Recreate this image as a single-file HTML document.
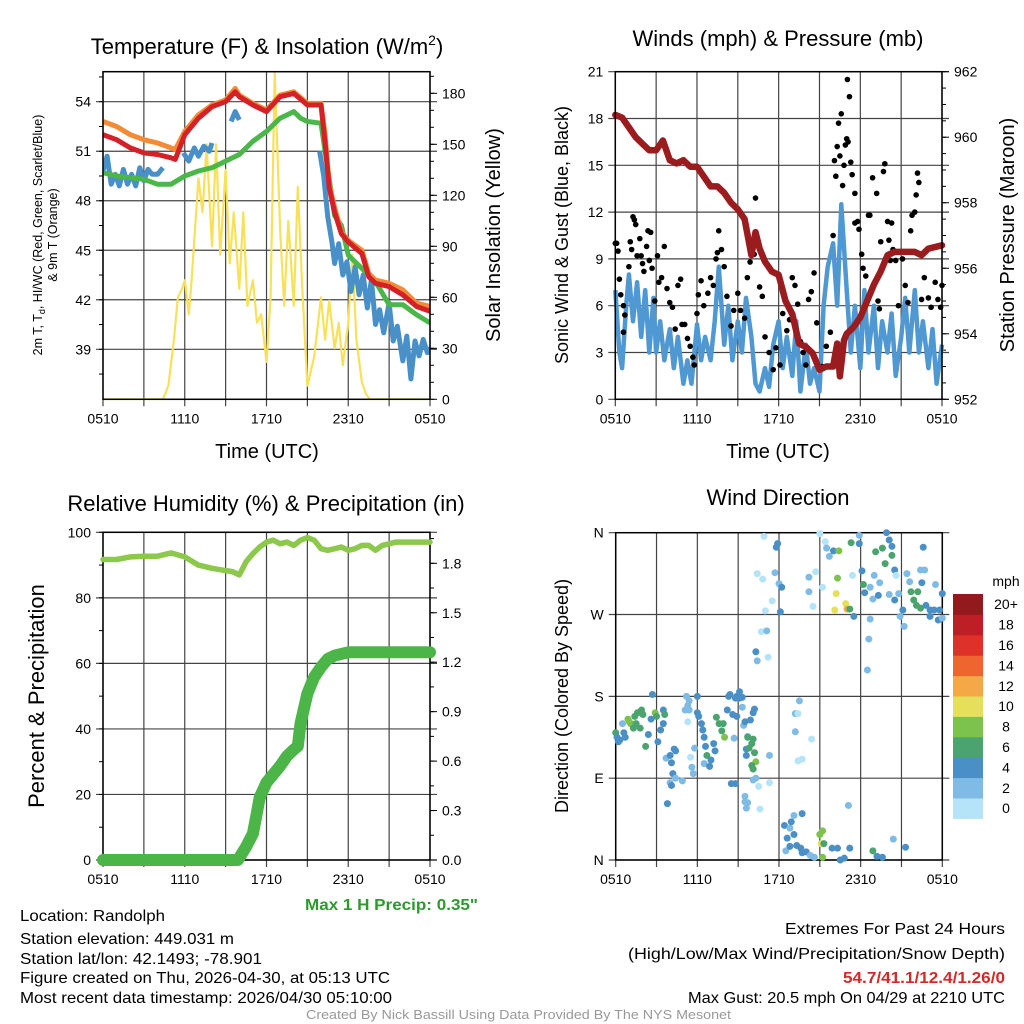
<!DOCTYPE html>
<html><head><meta charset="utf-8"><title>Randolph Meteogram</title>
<style>
html,body{margin:0;padding:0;background:#fff;}
#wrap{position:relative;width:1024px;height:1024px;overflow:hidden;font-family:"Liberation Sans",Arial,sans-serif;}
svg text{font-family:"Liberation Sans",Arial,sans-serif;fill:#000;}
.nar{font-family:"Liberation Sans Narrow","Liberation Sans",sans-serif;}
</style></head>
<body>
<div id="wrap">
<svg id="chart" width="1024" height="1024" viewBox="0 0 1024 1024" xmlns="http://www.w3.org/2000/svg">
<text x="267" y="54" font-size="22" text-anchor="middle">Temperature (F) &amp; Insolation (W/m<tspan dy="-9" font-size="14">2</tspan><tspan dy="9">)</tspan></text>
<text x="778" y="46" font-size="22" text-anchor="middle">Winds (mph) &amp; Pressure (mb)</text>
<text x="266" y="511" font-size="22" text-anchor="middle">Relative Humidity (%) &amp; Precipitation (in)</text>
<text x="778" y="505" font-size="22" text-anchor="middle">Wind Direction</text>

<text transform="translate(42,235) rotate(-90)" font-size="12.5" text-anchor="middle">2m T, T<tspan font-size="9" dy="3">d</tspan><tspan dy="-3">, HI/WC (Red, Green, Scarlet/Blue)</tspan></text>
<text transform="translate(57,235) rotate(-90)" font-size="12.5" text-anchor="middle">&amp; 9m T (Orange)</text>
<text transform="translate(500,235) rotate(-90)" font-size="20" text-anchor="middle">Solar Insolation (Yellow)</text>
<text transform="translate(568,235) rotate(-90)" font-size="18" text-anchor="middle">Sonic Wind &amp; Gust (Blue, Black)</text>
<text transform="translate(1014,235) rotate(-90)" font-size="20" text-anchor="middle">Station Pressure (Maroon)</text>
<text transform="translate(44,696) rotate(-90)" font-size="22" text-anchor="middle">Percent &amp; Precipitation</text>
<text transform="translate(568,696) rotate(-90)" font-size="18" text-anchor="middle">Direction (Colored By Speed)</text>
<text x="267" y="458" font-size="20" text-anchor="middle">Time (UTC)</text>
<text x="778" y="458" font-size="20" text-anchor="middle">Time (UTC)</text>

<text x="305" y="910" font-size="16" font-weight="bold" textLength="173" lengthAdjust="spacingAndGlyphs" class="nar" style="fill:#2e9a2e">Max 1 H Precip: 0.35"</text>
<text x="20" y="921" font-size="16" textLength="145" lengthAdjust="spacingAndGlyphs" class="nar">Location: Randolph</text>
<text x="20" y="944" font-size="16" textLength="214" lengthAdjust="spacingAndGlyphs" class="nar">Station elevation: 449.031 m</text>
<text x="20" y="964" font-size="16" textLength="242" lengthAdjust="spacingAndGlyphs" class="nar">Station lat/lon: 42.1493; -78.901</text>
<text x="20" y="983" font-size="16" textLength="370" lengthAdjust="spacingAndGlyphs" class="nar">Figure created on Thu, 2026-04-30, at 05:13 UTC</text>
<text x="20" y="1003" font-size="16" textLength="372" lengthAdjust="spacingAndGlyphs" class="nar">Most recent data timestamp: 2026/04/30 05:10:00</text>
<text x="785" y="934" font-size="16" textLength="220" lengthAdjust="spacingAndGlyphs" class="nar">Extremes For Past 24 Hours</text>
<text x="628" y="959" font-size="16" textLength="377" lengthAdjust="spacingAndGlyphs" class="nar">(High/Low/Max Wind/Precipitation/Snow Depth)</text>
<text x="843" y="983" font-size="16" font-weight="bold" textLength="162" lengthAdjust="spacingAndGlyphs" class="nar" style="fill:#d02a2a">54.7/41.1/12.4/1.26/0</text>
<text x="688" y="1003" font-size="16" textLength="317" lengthAdjust="spacingAndGlyphs" class="nar">Max Gust: 20.5 mph On 04/29 at 2210 UTC</text>
<text x="306" y="1019" font-size="12.5" textLength="425" lengthAdjust="spacingAndGlyphs" class="nar" style="fill:#999">Created By Nick Bassill Using Data Provided By The NYS Mesonet</text>
</svg>
</div>
<script>
// ---------- DATA ----------
const xTickLabels = ["0510","1110","1710","2310","0510"];
// Panel 1: temperatures (F), time in hours since 0510
const orangeT = [0,1,2,3,4,5,5.3,6,7,8,9,9.7,10,11,12,13,14,15,16,16.3,16.6,17,17.5,18,19,19.5,20,21,22,23,24];
const orangeV = [52.8,52.5,52.0,51.7,51.5,51.2,51.1,52.2,53.2,53.8,54.1,54.8,54.4,53.9,53.5,54.4,54.6,53.9,53.9,52,49,47.6,46.1,45.6,45.0,43.6,43.2,43.0,42.6,41.8,41.6];
const redT = [0,1,2,3,4,5,5.3,6,7,8,9,9.7,10,11,12,13,14,15,16,16.3,16.6,17,17.5,18,19,19.5,20,21,22,23,24];
const redV = [52.0,51.7,51.2,50.9,50.8,50.6,50.5,52.0,53.0,53.7,54.0,54.6,54.3,53.8,53.4,54.3,54.5,53.8,53.8,51.5,48.8,47.3,46.0,45.5,44.8,43.4,43.0,42.8,42.3,41.6,41.3];
const greenT = [0,1,2,3,4,5,6,7,8,9,10,11,12,13,14,14.5,15,16,16.5,17,17.5,18,19,20,21,22,23,24];
const greenV = [49.7,49.5,49.4,49.3,49.0,49.0,49.5,49.8,50.0,50.4,50.8,51.6,52.2,53.0,53.4,53.0,52.8,52.7,49.9,47.1,46.5,44.7,43.9,43.1,41.7,41.7,41.1,40.6];
const blueT = [0,0.3,0.6,0.9,1.2,1.5,1.8,2.1,2.4,2.7,3,3.3,3.6,4,4.4,null,5.9,6.3,6.7,7,7.4,7.8,8,null,9.4,9.7,10,null,15.9,16.2,16.5,16.8,17,17.3,17.6,17.9,18.2,18.5,18.8,19.1,19.4,19.7,20,20.3,20.6,21,21.3,21.6,22,22.3,22.6,22.9,23.2,23.5,23.8,24];
const blueV = [49.8,50.7,49.0,49.6,48.9,49.9,49.0,49.6,48.9,50.0,49.2,49.9,49.6,49.6,50.0,null,50.9,50.4,51.2,50.7,51.3,51.0,51.5,null,52.8,53.4,52.9,null,51.0,49.5,47.0,45.5,44.2,45.4,43.5,44.3,42.5,44.0,42.3,43.5,41.5,43.2,40.5,41.4,40.0,41.8,39.5,40.4,38.3,39.8,37.2,39.5,38.6,39.6,38.8,39.1];
const solarT = [0,4.4,4.8,5.2,5.5,5.8,6,6.3,6.5,7,7.3,7.6,8,8.3,8.6,9,9.3,9.6,10,10.3,10.6,11,11.3,11.6,12,12.3,12.6,13,13.3,13.6,14,14.3,14.6,15,15.5,16,16.3,16.6,17,17.3,17.6,18,18.3,18.6,19,19.3,19.6,24];
const solarV = [0,0,8,35,60,65,70,50,70,130,110,150,90,150,85,135,80,110,65,110,55,70,45,50,22,60,192,100,55,105,55,125,70,8,25,60,35,58,30,45,20,45,85,35,10,3,0,0];
// Panel 2: winds (mph) & pressure (mb)
const windT = [0,0.3,0.5,0.8,1,1.3,1.6,1.9,2.2,2.5,2.8,3,3.3,3.6,4,4.3,4.6,5,5.3,5.6,6,6.3,6.6,7,7.3,7.6,8,8.3,8.6,9,9.3,9.6,10,10.3,10.6,11,11.3,11.6,12,12.3,12.6,13,13.3,13.6,14,14.3,14.6,15,15.3,15.6,16,16.3,16.6,17,17.3,17.6,18,18.3,18.6,19,19.3,19.6,20,20.3,20.6,21,21.3,21.6,22,22.3,22.6,23,23.3,23.6,24];
const windV = [7,3,2,6,8,5,7.5,4,7,3,6.5,3,5,2.5,4.5,2,4,1,2.5,1,4.8,2.5,4,2.5,5,8.5,3.5,6,2.5,5,3,6.5,4,1,0.5,2,0.8,3.5,5,2,4,1.5,5,0.5,3.5,1,2,0.5,6,8.5,10,6,12.5,7,3,6,2,7,3,6,2,5,3,5.5,1.5,4,6.5,3,7,3,5,2,4.5,1,3.5];
const gustT = [0,0.1,0.2,0.3,0.4,0.6,0.6,0.7,1,1.1,1.2,1.3,1.4,1.5,1.6,1.8,1.9,2,2.1,2.3,2.4,2.5,2.6,2.7,2.9,3.1,3.2,3.4,3.6,3.8,4,4.2,4.4,4.6,4.8,4.9,5.1,5.3,5.5,5.7,5.8,6,6.1,6.3,6.5,6.8,7,7.2,7.4,7.5,7.6,7.8,8,8.2,8.5,8.7,9,9.2,9.5,9.7,9.9,10.2,10.3,10.6,10.8,11,11.3,11.6,11.8,12.1,12.3,12.6,12.8,13,13.2,13.4,13.6,13.8,14,14.2,14.4,14.6,14.8,15.2,15.5,15.8,16,16.1,16.2,16.3,16.4,16.5,16.6,16.7,16.8,16.9,17,17.05,17.1,17.2,17.3,17.4,17.6,17.6,17.8,17.9,18.1,18.2,18.4,18.6,18.7,18.9,19.2,19.3,19.4,19.5,19.7,19.8,20,20.1,20.2,20.3,20.4,20.6,20.8,21.1,21.3,21.5,21.7,21.8,22,22.1,22.2,22.3,22.5,22.7,23,23.2,23.5,23.7,23.9,24];
const gustV = [10,10,9.5,7.7,6.7,6,4.3,5.4,8.5,10.1,9.6,11.7,11.5,11.2,9.2,10.3,9.2,8.7,8.2,9.8,10.8,8.9,10.7,8.4,6.3,9.2,7.5,7.8,9.8,7.1,6.2,5.9,4.5,7.3,7.7,4.8,4.8,3.9,3.4,2.7,2.2,5.5,6.7,7.6,6.0,6.8,7.8,7.3,9,9.4,10.8,9.6,8.5,6.6,4.7,5.7,6.8,5.7,5.2,7.8,8.8,9.3,12.9,7.2,6.6,4.0,3,1.9,3.3,2.2,5.5,4.4,5.1,7.8,7.3,6.1,3.7,3.0,2.2,6.4,6.9,8.1,4.9,2.1,3.4,4.3,10.5,15.3,14.3,16.2,17.7,15.6,18.3,13.7,15.0,16.3,16.7,20.5,16.5,19.4,15.2,14.4,13.2,11.3,11.4,10.9,9.3,8.4,7.9,11.8,11.8,14.2,13.2,6.3,5.8,10.1,14.6,15.1,11.4,10.2,8.9,11.3,9.6,8.9,6.0,9.0,7.3,6.2,10.8,11.8,12,13.1,14.5,13.9,6.4,7.8,6.5,5.9,7.5,6.4,5.9,7.3];
const presT = [0,0.5,1,1.5,2,2.5,3,3.5,4,4.5,5,5.5,6,6.5,7,7.5,8,8.5,9,9.5,10,10.3,10.6,11,11.5,12,12.5,13,13.5,14,14.5,15,15.5,16,16.3,16.5,16.8,17,17.5,18,18.5,19,19.5,20,20.5,21,22,22.5,23,24];
const presV = [960.68,960.6,960.3,960.0,959.8,959.6,959.6,959.9,959.3,959.2,959.3,959.1,959.1,958.8,958.5,958.5,958.3,958.0,957.8,957.5,956.4,957.1,956.6,956.2,955.9,955.8,955.0,954.6,953.7,953.6,953.4,952.9,953.0,953.0,953.7,952.7,953.8,954.0,954.2,954.5,955.0,955.5,955.9,956.4,956.5,956.5,956.5,956.4,956.6,956.7];
// Panel 3: RH (%) & precipitation (in)
const rhT = [0,1,2,3,4,5,6,7,8,9,9.5,10,10.5,11,11.5,12,12.5,13,13.5,14,14.5,15,15.5,16,16.5,17,17.5,18,18.5,19,19.5,20,20.5,21,21.5,22,23,24];
const rhV = [91.7,91.7,92.5,92.7,92.7,93.7,92.5,90,89,88.3,88,87,91,93.5,95.5,97,97.6,96.5,97,96,97.6,98.4,97.6,95,94.5,95,95.5,94.5,95,96,96,94.5,96,96.5,97,97,97,97];
const prT = [0,9.9,10.5,11,11.3,11.5,12,12.5,13,13.5,14,14.3,14.5,15,15.5,16,16.5,17,18,24];
const prV = [0,0,0.08,0.16,0.29,0.38,0.47,0.52,0.57,0.63,0.67,0.69,0.83,1.01,1.11,1.17,1.22,1.24,1.26,1.26];
// Panel 4: wind direction (deg) colored by speed bin (mph)
const dirT = [0,0.1,0.2,0.3,0.5,0.6,0.7,0.9,1,1.1,1.3,1.4,1.5,1.6,1.9,2,1.8,2.2,2.4,2.6,2.7,2.9,3,3.1,3.3,3.5,3.6,3.5,3.7,4,4.1,4.3,4.4,4.2,4.0,4.1,3.8,4.4,4.9,5.2,5.1,5.3,5.4,5.3,5.4,5.5,5.6,5.7,5.8,6,6,6.1,6.3,6.4,6.5,6.6,6.7,6.5,6.9,7,7.2,7.3,7.4,7.6,7.8,7.9,8,8.2,8.3,8.4,8.6,8.8,8.9,9.1,9.3,9.4,9.5,9.6,9.7,9.9,10,10.1,10.2,10.3,10.1,10.3,8.5,9.6,9.7,8.7,8.9,9.1,9.3,10.2,10.1,9.6,9.7,9.8,10,10.1,11.3,10.5,11.3,10.6,9.5,9.5,8.8,13.2,13.4,13.5,13.2,14.4,13.4,13.7,13.1,13.7,12.4,12.6,
 10.9,11.8,11.9,11.7,12,12.2,11.5,11,12.1,10.4,10.8,10.7,11.1,10.3,10.4,11.2,14.2,14.2,14.5,14.7,15.2,
 12.8,12.9,13.1,12.5,12.8,13.3,13.6,13.7,14,14.3,14.6,15,15.1,15.2,15.3,15.2,15.9,16.3,17.2,18.9,19.2,19.6,20.4,21.3,17.1,16.5,16.8,
 15.0,15.4,15.5,15.7,16,16.4,16.3,16.2,16.1,16.9,17,17.2,17.5,17.3,17.9,17.9,18.1,17.4,18.2,18.3,18.7,19,18.7,18.6,18.5,18.9,19.3,19.4,19.1,19.6,19.9,20.1,20.3,20.3,19.8,20.5,20.6,20.1,20.5,20.8,21.4,21.6,21.7,22.2,21.9,22.1,22.4,21.1,20.9,21.2,22.4,22.6,22.5,22.8,23.1,23.4,23.8,24,23.1,23.7,24,23.5,22.7];
const dirV = [140,135,130,132,150,140,135,155,152,150,145,158,150,162,165,160,145,125,138,155,182,162,158,130,143,165,160,150,112,115,107,122,120,95,85,82,62,90,87,180,165,152,165,170,175,113,102,95,123,180,162,158,150,143,135,125,115,106,103,110,128,120,157,150,142,150,135,165,180,182,160,178,180,178,168,148,152,122,136,154,128,133,118,108,88,90,84,57,63,134,158,185,179,166,162,115,135,123,104,100,115,81,85,56,70,64,84,161,161,175,141,133,109,111,49,51,38,24,
 356,344,348,316,304,300,285,274,273,315,309,251,252,229,219,223,311,295,279,317,300,
 35,42,28,10,15,16,13,8,9,5,3,28,18,32,18,3,13,13,13,10,4,3,23,14,60,0,2,
 359,350,343,334,340,340,310,293,275,282,276,276,268,349,357,348,318,313,303,294,300,313,265,243,209,287,291,305,339,343,360,352,345,335,326,319,313,292,286,293,315,306,295,295,286,280,277,275,268,257,319,344,305,280,275,275,275,293,268,264,266,303,319];
const dirS = [6,4,4,4,2,4,4,8,8,8,6,6,6,6,6,6,6,6,4,4,4,8,6,4,4,4,6,4,2,4,4,4,4,4,2,4,4,2,2,2,2,0,2,2,2,0,2,2,2,4,4,4,4,4,4,4,6,2,4,4,4,4,6,6,6,6,8,4,4,4,4,4,4,4,2,2,4,4,2,4,6,6,6,8,2,2,4,2,2,2,4,4,4,4,4,4,6,6,6,6,2,0,0,0,2,2,4,2,0,2,2,0,0,0,2,4,4,4,
 0,4,4,2,2,4,0,0,4,0,0,0,2,4,2,0,2,2,0,0,0,
 2,4,4,2,4,4,4,4,4,2,2,8,10,8,6,8,4,4,4,6,4,4,2,4,2,4,4,
 0,0,2,2,4,8,8,10,10,10,12,6,4,6,2,4,4,0,6,4,2,2,2,2,2,2,4,2,6,6,4,4,4,6,6,4,0,2,4,2,2,2,6,6,6,6,6,4,2,2,2,4,4,4,4,4,4,4,4,4,2,2,2];
const speedColors = ["#b5e3f7","#7fbbe5","#4a8fc6","#4ba46e","#7dc24c","#e5e05b","#f5a846","#ef6530","#de3129","#be1e26","#921a1c"];
const speedLabels = ["0","2","4","6","8","10","12","14","16","18","20+"];

// ---------- DRAWING ----------
const svg = document.getElementById('chart');
const NS = 'http://www.w3.org/2000/svg';
function mk(tag, attrs, parent){
  const e = document.createElementNS(NS, tag);
  for (const k in attrs) e.setAttribute(k, attrs[k]);
  (parent||svg).appendChild(e);
  return e;
}
function scale(d0,d1,r0,r1){ return v => r0 + (v-d0)/(d1-d0)*(r1-r0); }
function pathFrom(ts, vs, fx, fy){
  let d='', pen=false;
  for (let i=0;i<ts.length;i++){
    if (ts[i]===null || vs[i]===null){ pen=false; continue; }
    d += (pen?'L':'M') + fx(ts[i]).toFixed(1) + ',' + fy(vs[i]).toFixed(1);
    pen=true;
  }
  return d;
}
function panelFrame(p, name){
  const g = mk('g', {});
  
  
  for (let h=0; h<=24; h+=3){
    const x = p.x(h);
    const l = mk('line', {x1:x, x2:x, y1:p.T, y2:p.B+7, stroke:'#444', 'stroke-width':1.2}, g);
    
    
  }
  xTickLabels.forEach((lab,i)=>{
    const t = mk('text', {x:p.x(i*6), y:p.B+24, 'font-size':14, 'text-anchor':'middle'}, g);
    t.textContent = lab;
    
    
  });
  return g;
}
function yAxis(p, ticks, labels, minor, fy, side, name){
  const g = mk('g', {});
  
  
  const x0 = side==='left'? p.L : p.R;
  const dir = side==='left'? -1 : 1;
  ticks.forEach((v,i)=>{
    const y = fy(v);
    if (side==='left'){
      const gl = mk('line', {x1:p.L-7, x2:p.R+7, y1:y, y2:y, stroke:'#444', 'stroke-width':1.2}, g);
      
      
    } else {
      mk('line', {x1:x0, x2:x0+7, y1:y, y2:y, stroke:'#000', 'stroke-width':1}, g);
    }
    const t = mk('text', {x: x0 + dir*12, y: y+5, 'font-size':14, 'text-anchor': side==='left'?'end':'start'}, g);
    t.textContent = labels[i];
    
    
  });
  minor.forEach(v=>{
    const y = fy(v);
    mk('line', {x1:x0, x2:x0+dir*4, y1:y, y2:y, stroke:'#000', 'stroke-width':1}, g);
  });
}
function border(p, name){
  const r = mk('rect', {x:p.L, y:p.T, width:p.R-p.L, height:p.B-p.T, fill:'none', stroke:'#000', 'stroke-width':1.5});
  
  
}
function range(a,b,s){ const r=[]; for(let v=a; v<=b+1e-9; v+=s) r.push(+v.toFixed(3)); return r; }

// Panel 1
const p1 = {L:103, R:430, T:71.7, B:399.3};
p1.x = scale(0,24,p1.L,p1.R);
const y1 = scale(54,39,101.7,349.3);
const y1r = scale(0,180,399.3,93.3);
panelFrame(p1,'temperature');
yAxis(p1, [39,42,45,48,51,54], ["39","42","45","48","51","54"], range(37.5,55.5,1.5), y1, 'left', 'temperature-y-axis');
yAxis(p1, range(0,180,30), ["0","30","60","90","120","150","180"], range(0,190,10), y1r, 'right', 'insolation-y-axis');
const clip1 = mk('clipPath', {id:'c1'}); mk('rect',{x:p1.L,y:p1.T,width:p1.R-p1.L,height:p1.B-p1.T},clip1);
const s1 = mk('g', {'clip-path':'url(#c1)'});
let e;
e = mk('path', {d:pathFrom(solarT,solarV,p1.x,y1r), fill:'none', stroke:'#f7e15a', 'stroke-width':2.2, 'stroke-linejoin':'round'}, s1);
 
e = mk('path', {d:pathFrom(blueT,blueV,p1.x,y1), fill:'none', stroke:'#4a90c8', 'stroke-width':5, 'stroke-linejoin':'round'}, s1);
 
e = mk('path', {d:pathFrom(greenT,greenV,p1.x,y1), fill:'none', stroke:'#4bb74a', 'stroke-width':5, 'stroke-linejoin':'round'}, s1);
 
e = mk('path', {d:pathFrom(orangeT,orangeV,p1.x,y1), fill:'none', stroke:'#f38a35', 'stroke-width':5, 'stroke-linejoin':'round'}, s1);
 
e = mk('path', {d:pathFrom(redT,redV,p1.x,y1), fill:'none', stroke:'#d42027', 'stroke-width':5, 'stroke-linejoin':'round'}, s1);
 
border(p1,'temperature');

// Panel 2
const p2 = {L:615.3, R:942, T:71.7, B:399.3};
p2.x = scale(0,24,p2.L,p2.R);
const y2 = scale(0,21,399.3,71.7);
const y2r = scale(952,962,399.3,71.7);
panelFrame(p2,'winds');
yAxis(p2, range(0,21,3), ["0","3","6","9","12","15","18","21"], [], y2, 'left', 'wind-y-axis');
yAxis(p2, range(952,962,2), ["952","954","956","958","960","962"], range(952,962,0.5), y2r, 'right', 'pressure-y-axis');
const clip2 = mk('clipPath', {id:'c2'}); mk('rect',{x:p2.L-6,y:p2.T,width:p2.R-p2.L+12,height:p2.B-p2.T},clip2);
const s2 = mk('g', {'clip-path':'url(#c2)'});
e = mk('path', {d:pathFrom(windT,windV,p2.x,y2), fill:'none', stroke:'#4f98d2', 'stroke-width':4.5, 'stroke-linejoin':'round'}, s2);
 
gustT.forEach((t,i)=>{
  const c = mk('circle', {cx:p2.x(t), cy:y2(gustV[i]), r:2.8, fill:'#000'}, s2);
  
  
});
e = mk('path', {d:pathFrom(presT,presV,p2.x,y2r), fill:'none', stroke:'#9b1c1f', 'stroke-width':6.5, 'stroke-linejoin':'round', 'stroke-linecap':'round'}, s2);
 
border(p2,'winds');

// Panel 3
const p3 = {L:103, R:430, T:532.3, B:860};
p3.x = scale(0,24,p3.L,p3.R);
const y3 = scale(0,100,860,532.3);
const y3r = scale(0,1.8,860,563.3);
panelFrame(p3,'humidity');
yAxis(p3, range(0,100,20), ["0","20","40","60","80","100"], range(0,100,10), y3, 'left', 'humidity-y-axis');
yAxis(p3, range(0,1.8,0.3), ["0.0","0.3","0.6","0.9","1.2","1.5","1.8"], range(0,1.95,0.15), y3r, 'right', 'precip-y-axis');
border(p3,'humidity');
e = mk('path', {d:pathFrom(rhT,rhV,p3.x,y3), fill:'none', stroke:'#8cc84b', 'stroke-width':5.5, 'stroke-linejoin':'round', 'stroke-linecap':'round'});
 
e = mk('path', {d:pathFrom(prT,prV,p3.x,y3r), fill:'none', stroke:'#4bb548', 'stroke-width':12, 'stroke-linejoin':'round', 'stroke-linecap':'round'});
 

// Panel 4
const p4 = {L:615.7, R:942.3, T:532.7, B:860};
p4.x = scale(0,24,p4.L,p4.R);
const y4 = scale(0,360,860,532.7);
panelFrame(p4,'direction');
yAxis(p4, [0,90,180,270,360], ["N","E","S","W","N"], [], y4, 'left', 'direction-y-axis');
border(p4,'direction');
dirT.forEach((t,i)=>{
  const c = mk('circle', {cx:p4.x(t), cy:y4(dirV[i]), r:3.5, fill:speedColors[Math.min(10,Math.floor(dirS[i]/2))]});
  
  
});
// colorbar
const cb = mk('g', {});


const cbTop = 594, cbH = 20.4;
speedLabels.forEach((lab,i)=>{
  const j = speedLabels.length-1-i;
  const r = mk('rect', {x:953, y:cbTop + j*cbH, width:30, height:cbH+0.5, fill:speedColors[i]}, cb);
  
  
  const t = mk('text', {x:1006, y:cbTop + j*cbH + cbH/2 + 5, 'font-size':14, 'text-anchor':'middle'}, cb);
  t.textContent = lab;
  
  
});
const mph = mk('text', {x:1006, y:586, 'font-size':14, 'text-anchor':'middle'}, cb);
mph.textContent = 'mph';


</script>
</body></html>
